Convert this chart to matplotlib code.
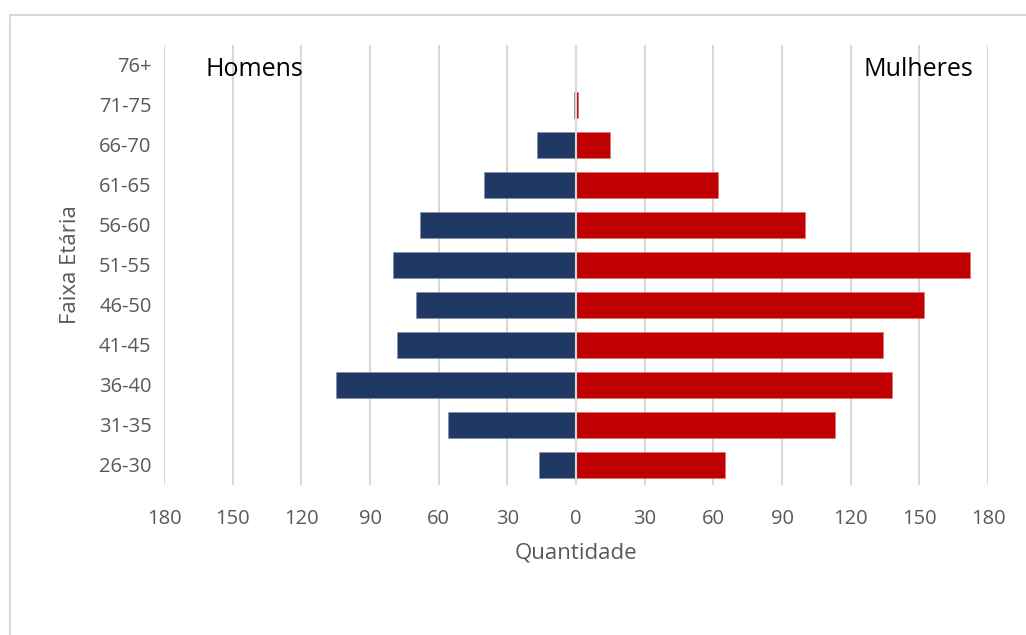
import matplotlib.pyplot as plt
from matplotlib.patches import Rectangle

plt.rcParams['font.family'] = ['Open Sans', 'DejaVu Sans']

faixas = ['26-30', '31-35', '36-40', '41-45', '46-50', '51-55',
          '56-60', '61-65', '66-70', '71-75', '76+']
homens = [16, 56, 105, 78, 70, 80, 68, 40, 17, 1, 0]
mulheres = [65, 113, 138, 134, 152, 172, 100, 62, 15, 1, 0]
ticks = [-180, -150, -120, -90, -60, -30, 0, 30, 60, 90, 120, 150, 180]

azul = '#1F3864'
vermelho = '#C00000'
cinza = '#D9D9D9'
texto = '#595959'

fig = plt.figure(figsize=(10.26, 6.35), dpi=100)
ax = fig.add_axes([164 / 1026, 1 - 485 / 635, 824 / 1026, 440 / 635])

pos = list(range(len(faixas)))
ax.barh(pos, [-h for h in homens], height=0.63, color=azul,
        edgecolor='#8090B0', linewidth=0.4, zorder=2)
ax.barh(pos, mulheres, height=0.63, color=vermelho,
        edgecolor='#E07070', linewidth=0.4, zorder=2)
ax.axvline(0, color=cinza, linewidth=1.5, zorder=3)

ax.set_xlim(-180, 180)
ax.set_ylim(-0.5, len(faixas) - 0.5)
ax.set_xticks(ticks)
ax.set_xticklabels([str(abs(t)) for t in ticks])
ax.set_yticks(pos)
ax.set_yticklabels(faixas)
ax.tick_params(axis='both', length=0, labelsize=14.5, labelcolor=texto)
ax.tick_params(axis='x', pad=17)
ax.tick_params(axis='y', pad=9)
ax.grid(axis='x', color=cinza, linewidth=1.5)
ax.set_axisbelow(True)
for s in ax.spines.values():
    s.set_visible(False)

ax.text(0.05, 0.944, 'Homens', transform=ax.transAxes, fontsize=18,
        ha='left', va='center', color='black')
ax.text(0.982, 0.944, 'Mulheres', transform=ax.transAxes, fontsize=18,
        ha='right', va='center', color='black')

fig.text(70 / 1026, 1 - 265 / 635, 'Faixa Etária', rotation=90,
         ha='center', va='center', fontsize=16, color=texto)
fig.text(576 / 1026, 1 - 553 / 635, 'Quantidade',
         ha='center', va='center', fontsize=16, color=texto)

# moldura do gráfico
fig.patches.append(Rectangle((9.5 / 1026, -0.1), 1.2, 1.1 - 14.5 / 635,
                             transform=fig.transFigure, fill=False,
                             edgecolor=cinza, linewidth=1.5))

fig.savefig('out.png', dpi=100)
